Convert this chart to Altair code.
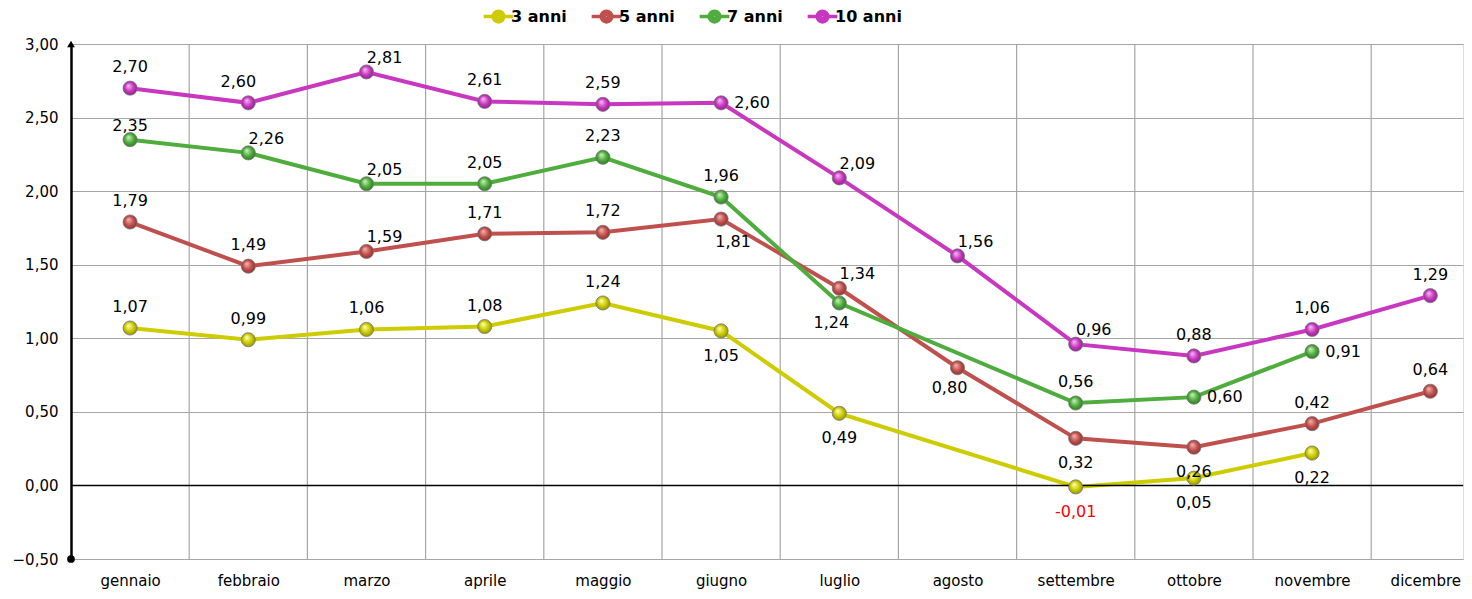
import altair as alt
import pandas as pd

months = ["gennaio", "febbraio", "marzo", "aprile", "maggio", "giugno",
          "luglio", "agosto", "settembre", "ottobre", "novembre", "dicembre"]
series_names = ["3 anni", "5 anni", "7 anni", "10 anni"]
v3 = [1.07, 0.99, 1.06, 1.08, 1.24, 1.05, 0.49, None, -0.01, 0.05, 0.22, None]
v5 = [1.79, 1.49, 1.59, 1.71, 1.72, 1.81, 1.34, 0.80, 0.32, 0.26, 0.42, 0.64]
v7 = [2.35, 2.26, 2.05, 2.05, 2.23, 1.96, 1.24, None, 0.56, 0.60, 0.91, None]
v10 = [2.70, 2.60, 2.81, 2.61, 2.59, 2.60, 2.09, 1.56, 0.96, 0.88, 1.06, 1.29]
y_ticks = [-0.5, 0.0, 0.5, 1.0, 1.5, 2.0, 2.5, 3.0]

colors = ["#CCCC00", "#C0504D", "#4EAD3D", "#C837C0"]
dark = ["#8A8A00", "#8A2E2B", "#2E7322", "#862183"]
light = ["#FFFFB0", "#F4B0AE", "#C8F0B8", "#F4B8F0"]

# label placement (style, kept in code)
place = {
    "3 anni": ["a", "a", "a", "a", "a", "b", "b", None, "b", "b", "b", None],
    "5 anni": ["a", "a", "ar", "a", "a", "br", "ar", "bl", "b", "b", "a", "a"],
    "7 anni": ["a2", "ar", "ar", "a", "a", "a", "bl", None, "a", "r", "r", None],
    "10 anni": ["a", "al", "ar", "a", "a", "r", "ar", "ar", "ar", "a", "a", "a"],
}
offsets = {"a": (0, -21), "a2": (0, -14), "b": (0, 25), "ar": (18, -14),
           "al": (-10, -21), "r": (31, 0), "br": (12, 23), "bl": (-8, 20)}

rows = []
for name, vals in zip(series_names, [v3, v5, v7, v10]):
    for i, (m, v) in enumerate(zip(months, vals)):
        if v is None:
            continue
        rows.append({"serie": name, "idx": i, "mese": m, "val": v,
                     "lab": f"{v:.2f}".replace(".", ","),
                     "place": place[name][i]})
df = pd.DataFrame(rows)

W, H = 1392, 515
xscale = alt.Scale(domain=[-0.5, -0.5 + W / 118.2], nice=False, zero=False)
yscale = alt.Scale(domain=[-0.5, 3.0], nice=False, zero=False)
month_arr = "[" + ",".join(f"'{m}'" for m in months) + "]"
FONT = "DejaVu Sans"

x_enc = alt.X("idx:Q", scale=xscale,
              axis=alt.Axis(values=list(range(12)), labelExpr=f"{month_arr}[datum.value]",
                            title=None, grid=False, ticks=False, domain=False,
                            labelFont=FONT, labelFontSize=15, labelColor="#000",
                            labelPadding=14, labelBound=False,
                            labelOffset={"condition": {"test": "datum.value == 11", "value": -5},
                                         "value": 0}))
y_enc = alt.Y("val:Q", scale=yscale,
              axis=alt.Axis(values=y_ticks, title=None, grid=True, gridColor="#A6A6A6",
                            gridWidth=1.2, ticks=False, domain=True, domainColor="#000",
                            domainWidth=2.5,
                            labelExpr="replace(format(datum.value, '.2f'), '.', ',')",
                            labelFont=FONT, labelFontSize=15, labelColor="#000",
                            labelPadding=13))

base = alt.Chart(df)

vgrid_df = pd.DataFrame({"g": [i + 0.5 for i in range(11)]})
vgrid = alt.Chart(vgrid_df).mark_rule(color="#A6A6A6", strokeWidth=1.2).encode(
    x=alt.X("g:Q", scale=xscale))

zero_df = pd.DataFrame({"z": [0.0]})
zero = alt.Chart(zero_df).mark_rule(color="#000", strokeWidth=1.5).encode(
    y=alt.Y("z:Q", scale=yscale))

color_scale = alt.Scale(domain=series_names, range=colors)


def ring(r):
    return f"M{-r},0A{r},{r} 0 1,1 {r},0A{r},{r} 0 1,1 {-r},0Z"


# line with a "solid" ball: concentric stroked rings fill the disc
legend_path = "M-2,0L-0.8,0M0.8,0L2,0" + "".join(ring(r) for r in (0.72, 0.5, 0.28, 0.08))

lines = base.mark_line(strokeWidth=4).encode(
    x=x_enc, y=y_enc,
    color=alt.Color("serie:N", scale=color_scale, sort=series_names,
                    legend=alt.Legend(title=None, orient="none", direction="horizontal",
                                      legendX=418, legendY=-37,
                                      symbolType=legend_path, symbolSize=220,
                                      symbolStrokeWidth=3.5, symbolOpacity=1,
                                      labelFont=FONT, labelFontSize=16,
                                      labelFontWeight="bold", labelColor="#000",
                                      columnPadding=17, labelOffset=3)),
    detail="serie:N")

layers = [vgrid, lines, zero]
for name, c, d, l in zip(series_names, colors, dark, light):
    grad = {"gradient": "radial", "x1": 0.38, "y1": 0.32, "r1": 0.02,
            "x2": 0.5, "y2": 0.5, "r2": 0.55,
            "stops": [{"offset": 0, "color": l}, {"offset": 0.55, "color": c},
                      {"offset": 1, "color": d}]}
    pts = base.transform_filter(alt.datum.serie == name).mark_point(
        shape="circle", size=200, filled=True, fill=grad, stroke="#777777",
        strokeWidth=0.8, opacity=1).encode(x="idx:Q", y="val:Q")
    layers.append(pts)

for key, (dx, dy) in offsets.items():
    txt = base.transform_filter(alt.datum.place == key).mark_text(
        dx=dx, dy=dy, font=FONT, fontSize=16).encode(
        x="idx:Q", y="val:Q", text="lab:N",
        color=alt.condition(alt.datum.val < 0, alt.value("#FF0000"), alt.value("#000000")))
    layers.append(txt)

# axis decorations: arrow top and dot bottom
arrow = alt.Chart(zero_df).mark_point(shape="triangle-up", filled=True, color="#000",
                                      size=60, opacity=1).encode(
    x=alt.value(0), y=alt.value(0))
dot = alt.Chart(zero_df).mark_point(shape="circle", filled=True, color="#000",
                                    size=60, opacity=1).encode(
    x=alt.value(0), y=alt.value(H))
layers += [arrow, dot]

chart = alt.layer(*layers).properties(
    width=W, height=H,
    autosize=alt.AutoSizeParams(type="none"),
    padding={"left": 63, "top": 36, "right": 1, "bottom": 32},
).configure_view(stroke=None).configure(background="white")

chart.save("out.html", embed_options={"renderer": "svg", "actions": False})
